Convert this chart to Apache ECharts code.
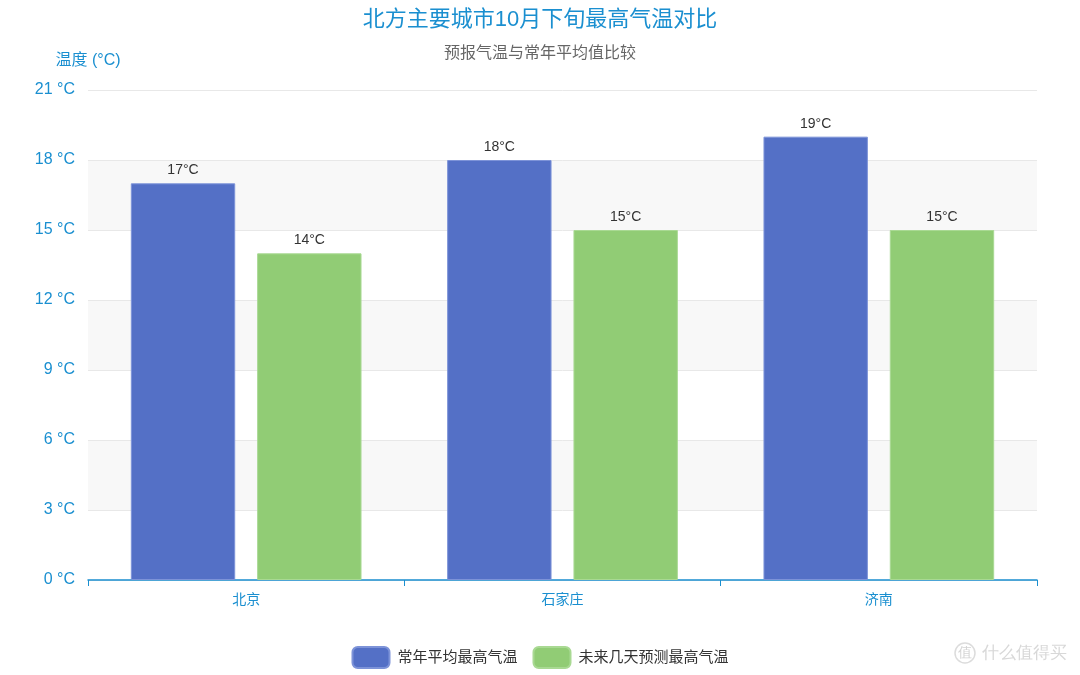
<!DOCTYPE html>
<html>
<head>
<meta charset="utf-8">
<script src="https://cdn.jsdelivr.net/npm/echarts@6/dist/echarts.min.js"></script>
<style>
  html, body { margin: 0; padding: 0; background: #fff; }
  #main { width: 1080px; height: 675px; }
</style>
</head>
<body>
<div id="main"></div>
<script>
// 数据
const cities = ['北京', '石家庄', '济南'];
const normalHigh = [17, 18, 19];
const forecastHigh = [14, 15, 15];
const seriesNames = ['常年平均最高气温', '未来几天预测最高气温'];

const blue = '#1a8fd0';
const chart = echarts.init(document.getElementById('main'));

const labelStyle = {
    show: true,
    position: 'top',
    formatter: '{c}°C',
    color: '#333',
    fontSize: 14,
    distance: 6
};

chart.setOption({
    backgroundColor: '#fff',
    textStyle: { fontFamily: '"Liberation Sans", "Noto Sans CJK SC", sans-serif' },
    title: {
        text: '北方主要城市10月下旬最高气温对比',
        subtext: '预报气温与常年平均值比较',
        left: 'center',
        top: 4,
        itemGap: 15,
        textStyle: { color: blue, fontSize: 22, fontWeight: 'normal' },
        subtextStyle: { color: '#666', fontSize: 16 }
    },
    legend: {
        data: seriesNames,
        bottom: 1,
        itemWidth: 37,
        itemHeight: 21,
        itemGap: 15,
        itemStyle: { borderRadius: 4 },
        textStyle: { color: '#333', fontSize: 15, padding: [0, 0, 0, 3] }
    },
    grid: { left: 88, right: 43, top: 90, bottom: 95, containLabel: false },
    xAxis: {
        type: 'category',
        data: cities,
        axisLine: { lineStyle: { color: blue, width: 1.5 } },
        axisTick: { show: true, alignWithLabel: false, length: 6, lineStyle: { color: blue } },
        axisLabel: { color: blue, fontSize: 14, margin: 13 }
    },
    yAxis: {
        type: 'value',
        min: 0,
        max: 21,
        interval: 3,
        name: '温度 (°C)',
        nameLocation: 'end',
        nameGap: 21,
        nameTextStyle: { color: blue, fontSize: 16, align: 'center' },
        axisLine: { show: false },
        axisTick: { show: false },
        axisLabel: { color: blue, fontSize: 16, formatter: '{value} °C', margin: 13, padding: [3, 0, 0, 0] },
        splitLine: { lineStyle: { color: '#e8e8e8' } },
        splitArea: { show: true, areaStyle: { color: ['#ffffff', '#f8f8f8'] } }
    },
    series: [
        {
            name: seriesNames[0],
            type: 'bar',
            data: normalHigh,
            barWidth: '33%',
            barGap: '21%',
            itemStyle: { color: '#5470c6', borderColor: '#7d93d8', borderWidth: 1 },
            label: labelStyle
        },
        {
            name: seriesNames[1],
            type: 'bar',
            data: forecastHigh,
            barWidth: '33%',
            itemStyle: { color: '#91cc75', borderColor: '#a9d993', borderWidth: 1 },
            label: labelStyle
        }
    ],
    graphic: [
        {
            type: 'circle',
            shape: { cx: 965, cy: 653, r: 10 },
            style: { fill: 'none', stroke: '#dcdcdc', lineWidth: 1.5 }
        },
        {
            type: 'text',
            x: 965,
            y: 653,
            style: { text: '值', fill: '#d4d4d4', fontSize: 14, align: 'center', verticalAlign: 'middle' }
        },
        {
            type: 'text',
            x: 982,
            y: 653,
            style: { text: '什么值得买', fill: '#d8d8d8', fontSize: 17, verticalAlign: 'middle' }
        }
    ]
});
</script>
</body>
</html>
